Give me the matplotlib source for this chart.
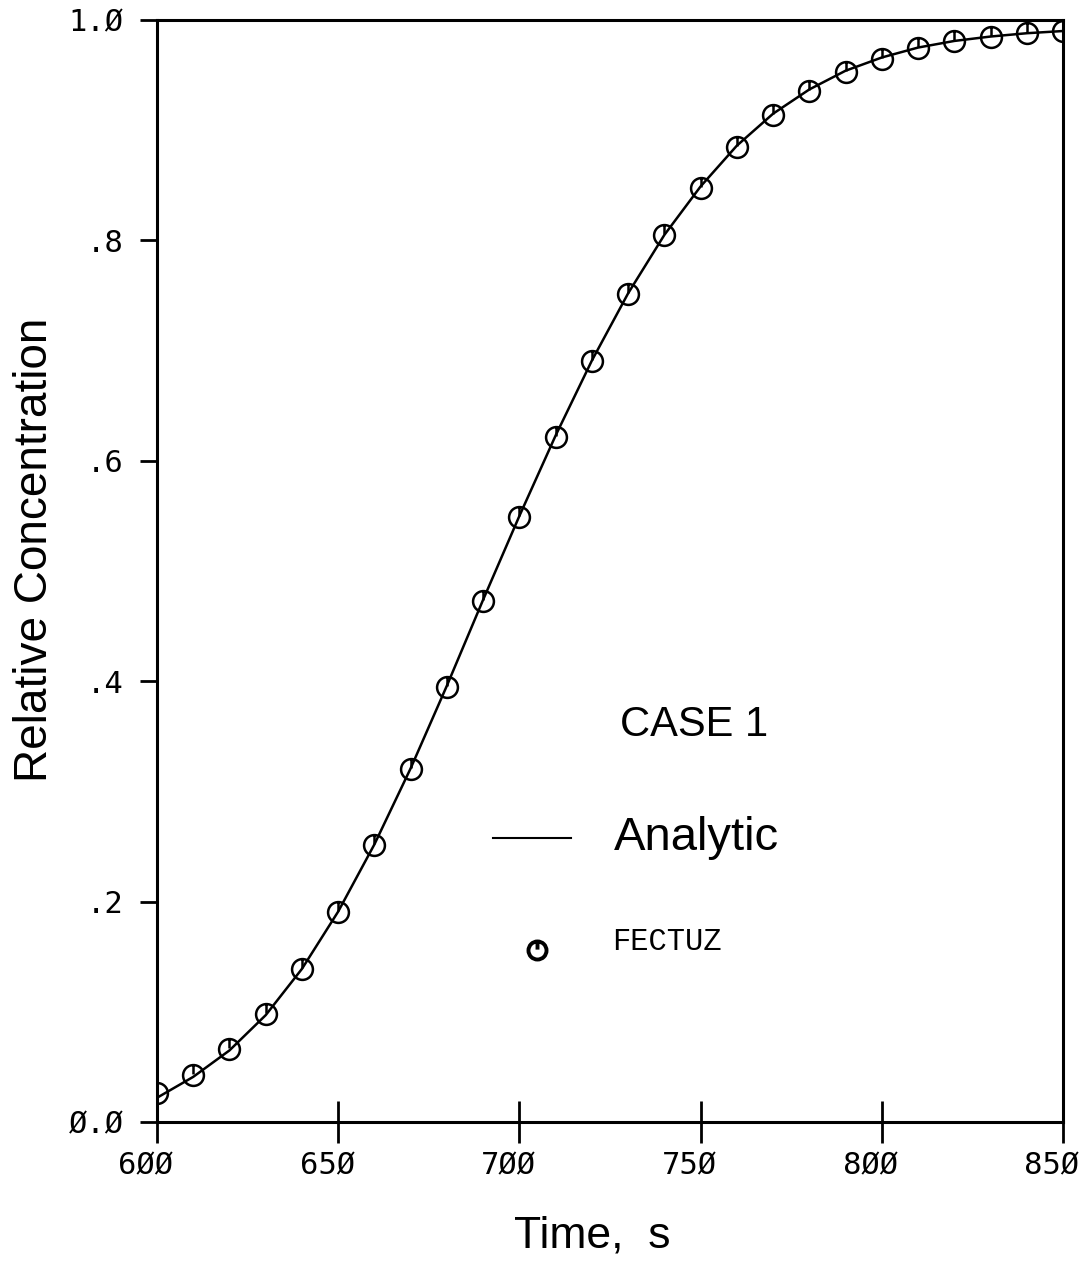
import numpy as np
import matplotlib.pyplot as plt
from matplotlib.path import Path
from matplotlib.transforms import ScaledTranslation

# sampled breakthrough values, every 10 s
time_s = [600, 610, 620, 630, 640, 650, 660, 670, 680, 690, 700, 710, 720,
          730, 740, 750, 760, 770, 780, 790, 800, 810, 820, 830, 840, 850]
fectuz = [0.026, 0.043, 0.066, 0.098, 0.139, 0.191, 0.251, 0.320, 0.395,
          0.473, 0.549, 0.622, 0.691, 0.751, 0.805, 0.848, 0.885, 0.914,
          0.936, 0.953, 0.965, 0.975, 0.981, 0.985, 0.988, 0.990]
analytic = [0.022, 0.041, 0.065, 0.097, 0.139, 0.191, 0.252, 0.321, 0.396,
            0.474, 0.550, 0.623, 0.691, 0.752, 0.805, 0.849, 0.886, 0.915,
            0.937, 0.954, 0.966, 0.975, 0.981, 0.985, 0.988, 0.990]

xticks = [600, 650, 700, 750, 800, 850]
xticklabels = ['6ØØ', '65Ø', '7ØØ', '75Ø', '8ØØ', '85Ø']
yticks = [0.0, 0.2, 0.4, 0.6, 0.8, 1.0]
yticklabels = ['Ø.Ø', '.2', '.4', '.6', '.8', '1.Ø']

# open circle with a short stroke from the top down to the centre
circ = Path.unit_circle()
stem = Path([(0, 1), (0, 0.1)], [Path.MOVETO, Path.LINETO])
marker_path = Path.make_compound_path(circ, stem)

fig = plt.figure(figsize=(10.81, 12.66), dpi=100)
ax = fig.add_axes([0.1452, 0.1137, 0.8382, 0.8705])

ax.plot(time_s, analytic, color='black', lw=1.8)
ax.plot(time_s, fectuz, ls='none', marker=marker_path, ms=15,
        mfc='none', mec='black', mew=1.8)

ax.set_xlim(600, 850)
ax.set_ylim(0, 1)
for s in ax.spines.values():
    s.set_linewidth(2.2)

ax.set_xticks(xticks)
ax.set_xticklabels(xticklabels, family='DejaVu Sans Mono', fontsize=22)
ax.set_yticks(yticks)
ax.set_yticklabels(yticklabels, family='DejaVu Sans Mono', fontsize=22)
ax.tick_params(axis='x', direction='inout', length=30, width=2, pad=6)
ax.tick_params(axis='y', direction='out', length=12, width=2, pad=12)
shift = ScaledTranslation(-11 / 100, 0, fig.dpi_scale_trans)
for lbl in ax.get_xticklabels():
    lbl.set_transform(lbl.get_transform() + shift)

ax.set_xlabel('Time,  s', family='Liberation Sans', fontsize=32)
ax.xaxis.set_label_coords(0.480, -0.085)
ax.set_ylabel('Relative Concentration', family='Liberation Sans', fontsize=33)
ax.yaxis.set_label_coords(-0.110, 0.519)

# legend block
ax.text(0.511, 0.360, 'CASE 1', transform=ax.transAxes,
        family='Liberation Sans', fontsize=30, va='center', ha='left')
ax.plot([0.371, 0.457], [0.258, 0.258], color='black', lw=1.5,
        transform=ax.transAxes)
ax.text(0.504, 0.258, 'Analytic', transform=ax.transAxes,
        family='Liberation Sans', fontsize=34, va='center', ha='left')
ax.plot([0.419], [0.156], ls='none', marker=marker_path, ms=13,
        mfc='none', mec='black', mew=2.8, transform=ax.transAxes)
ax.text(0.502, 0.163, 'FECTUZ', transform=ax.transAxes,
        family='Liberation Mono', fontsize=22, va='center', ha='left')

fig.savefig('out.png', dpi=100)
